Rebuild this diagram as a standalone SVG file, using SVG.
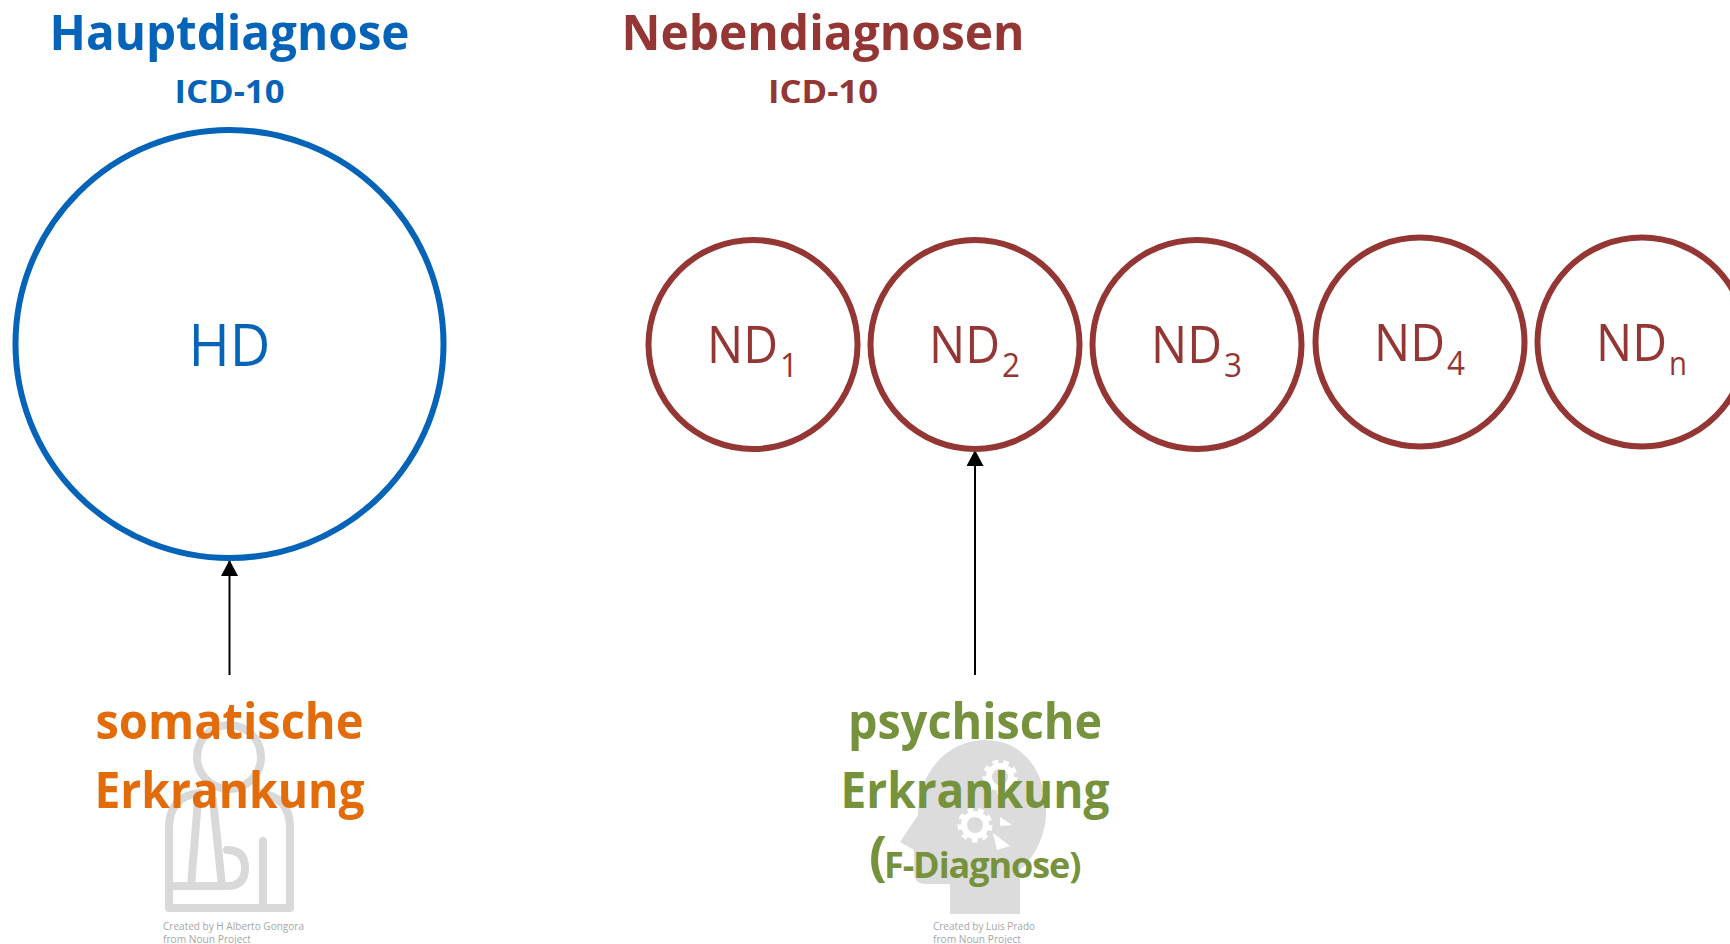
<svg xmlns="http://www.w3.org/2000/svg" width="1730" height="944" viewBox="0 0 1730 944">
<style>
text{font-family:"Open Sans","Noto Sans","Liberation Sans",sans-serif;text-anchor:middle}
.b{font-weight:700}
.hd{fill:#0563b8}
.nd{fill:#943634}
.or{fill:#e36c0a}
.gr{fill:#76923c}
.c{fill:none;stroke:#943634;stroke-width:6}
.l{font-size:50px}
.s{font-size:32px}
.t{font-size:49px}
.m{font-size:51px;text-anchor:start}
.u{font-size:33px;text-anchor:start}
.ic{fill:none;stroke:#d9d9d9;stroke-width:8;stroke-linejoin:round;stroke-linecap:round}
.cr{fill:#a6a6a6;font-size:11px;text-anchor:start}
.w{fill:#fff}
.g1{fill:none;stroke:#fff;stroke-width:6}
.g2{fill:none;stroke:#fff;stroke-width:5;stroke-dasharray:5.500 5}
</style>
<defs><marker id="a" markerUnits="userSpaceOnUse" markerWidth="17" markerHeight="17" refX="16" refY="8.500" orient="auto"><path d="M0 0L16 8.500L0 17z" fill="#000"/></marker></defs>
<rect width="1730" height="944" fill="#fff"/>
<g id="icon-person">
<circle class="ic" cx="229" cy="757" r="32"/>
<path class="ic" d="M200 793Q169 796 169 828V908H290V828Q290 796 258 793M169 886H227Q245 886 245 868Q245 850 227 850M191 886L198 800M222 886L213 800M263 908V841"/>
<text class="cr" x="163" y="930" textLength="141" lengthAdjust="spacingAndGlyphs">Created by H Alberto Gongora</text>
<text class="cr" x="163" y="943" textLength="88" lengthAdjust="spacingAndGlyphs">from Noun Project</text>
</g>
<g id="icon-head">
<path d="M950 914V884H925Q914 884 914 872V850L900 842L918 815C918 770 950 740 985 740C1026 740 1046 775 1046 812C1046 840 1030 862 1020 870V914Z" fill="#dcdcdc"/>
<circle class="g1" cx="1000" cy="777" r="11"/><circle class="g2" cx="1000" cy="777" r="15"/>
<circle class="g1" cx="975" cy="825" r="11"/><circle class="g2" cx="975" cy="825" r="15"/>
<path class="w" d="M1000 817L1012 825L1000 826ZM993 833L1010 846L997 850Z"/>
<text class="cr" x="933" y="930" textLength="102" lengthAdjust="spacingAndGlyphs">Created by Luis Prado</text>
<text class="cr" x="933" y="943" textLength="88" lengthAdjust="spacingAndGlyphs">from Noun Project</text>
</g>
<g id="connectors" fill="none" stroke="#000" stroke-width="2">
<path d="M229.500 675V560" marker-end="url(#a)"/>
<path d="M975 675V450" marker-end="url(#a)"/>
</g>
<g id="title-hd"><text class="b hd t" x="229.500" y="50" textLength="360" lengthAdjust="spacingAndGlyphs">Hauptdiagnose</text>
<text class="b hd s" x="229.500" y="103" textLength="110" lengthAdjust="spacingAndGlyphs">ICD-10</text></g>
<g id="title-nd"><text class="b nd t" x="823" y="50" textLength="403" lengthAdjust="spacingAndGlyphs">Nebendiagnosen</text>
<text class="b nd s" x="823" y="103" textLength="110" lengthAdjust="spacingAndGlyphs">ICD-10</text></g>
<g id="HD"><circle cx="229.500" cy="344" r="214" fill="none" stroke="#0563b8" stroke-width="6"/>
<text class="hd" x="229.500" y="366" font-size="58" textLength="82" lengthAdjust="spacingAndGlyphs">HD</text></g>
<g id="ND1"><circle class="c" cx="753" cy="344.500" r="104.500"/><text class="nd m" x="707" y="363" textLength="71" lengthAdjust="spacingAndGlyphs">ND</text><text class="nd u" x="780" y="377" textLength="18" lengthAdjust="spacingAndGlyphs">1</text></g>
<g id="ND2"><circle class="c" cx="975" cy="344.500" r="104.500"/><text class="nd m" x="929" y="363" textLength="71" lengthAdjust="spacingAndGlyphs">ND</text><text class="nd u" x="1002" y="377" textLength="18" lengthAdjust="spacingAndGlyphs">2</text></g>
<g id="ND3"><circle class="c" cx="1197" cy="344.500" r="104.500"/><text class="nd m" x="1151" y="363" textLength="71" lengthAdjust="spacingAndGlyphs">ND</text><text class="nd u" x="1224" y="377" textLength="18" lengthAdjust="spacingAndGlyphs">3</text></g>
<g id="ND4"><circle class="c" cx="1420" cy="342" r="104.500"/><text class="nd m" x="1374" y="361" textLength="71" lengthAdjust="spacingAndGlyphs">ND</text><text class="nd u" x="1447" y="375" textLength="18" lengthAdjust="spacingAndGlyphs">4</text></g>
<g id="NDn"><circle class="c" cx="1642" cy="342" r="104.500"/><text class="nd m" x="1596" y="361" textLength="71" lengthAdjust="spacingAndGlyphs">ND</text><text class="nd u" x="1669" y="375" textLength="18" lengthAdjust="spacingAndGlyphs">n</text></g>
<g id="somatisch"><text class="b or l" x="229.500" y="739" textLength="268" lengthAdjust="spacingAndGlyphs">somatische</text>
<text class="b or l" x="229.500" y="808" textLength="270" lengthAdjust="spacingAndGlyphs">Erkrankung</text></g>
<g id="psychisch"><text class="b gr l" x="975" y="739" textLength="254" lengthAdjust="spacingAndGlyphs">psychische</text>
<text class="b gr l" x="975" y="808" textLength="269" lengthAdjust="spacingAndGlyphs">Erkrankung</text>
<text class="b gr" x="869" y="875" style="text-anchor:start"><tspan font-size="53">(</tspan><tspan font-size="36" letter-spacing="-1.100" dx="-3" dy="3">F-Diagnose)</tspan></text></g>
</svg>
